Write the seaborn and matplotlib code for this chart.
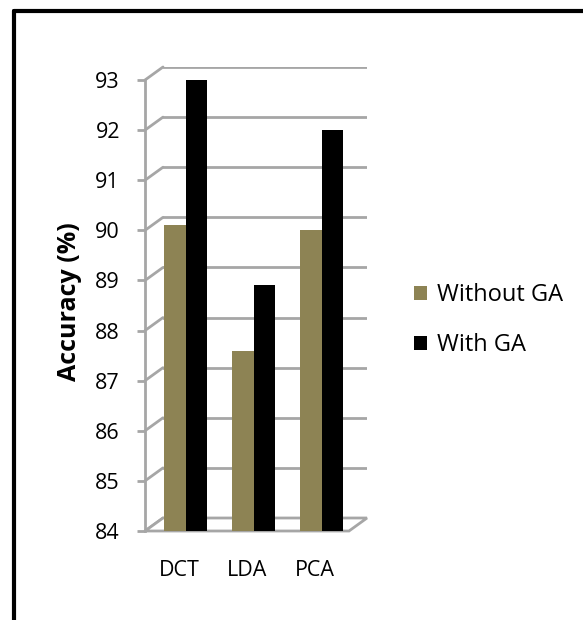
import numpy as np
import pandas as pd
import seaborn as sns
import matplotlib
matplotlib.use("Agg")
import matplotlib.pyplot as plt
from matplotlib.lines import Line2D
from matplotlib.patches import Patch, Polygon
from matplotlib.transforms import ScaledTranslation

# Recognition accuracy per feature extractor
methods = ["DCT", "LDA", "PCA"]
without_ga = [90.0, 87.5, 89.9]
with_ga = [92.9, 88.8, 91.9]
series = ["Without GA", "With GA"]
y_ticks = [84, 85, 86, 87, 88, 89, 90, 91, 92, 93]

df = pd.DataFrame({
    "Method": methods * 2,
    "Accuracy": without_ga + with_ga,
    "Series": [series[0]] * 3 + [series[1]] * 3,
})

sns.set_style("white")
plt.rcParams["font.family"] = ["Open Sans", "DejaVu Sans"]
plt.rcParams["text.color"] = "#000000"

W, H = 583, 620
fig = plt.figure(figsize=(W / 100, H / 100), dpi=100)

olive = "#8D8354"
grid_gray = "#A6A6A6"
palette = {series[0]: olive, series[1]: "#000000"}

# front plane of the plot area (pixels from the top-left corner)
x0, x1 = 145, 349
y_top, y_bot = 80, 531
dx, dy = 18, 13  # depth of the pseudo-3D box


def fig_rect(l, t, r, b):
    return [l / W, 1 - b / H, (r - l) / W, (b - t) / H]


# back wall carrying the gridlines
ax_back = fig.add_axes(fig_rect(x0 + dx, y_top - dy, x1 + dx, y_bot - dy))
ax_back.set_ylim(y_ticks[0], y_ticks[-1])
ax_back.set_xlim(0, 1)
for v in y_ticks:
    ax_back.axhline(v, color=grid_gray, lw=2, zorder=0)
ax_back.set_axis_off()

# front plane with the bars and the value axis
ax = fig.add_axes(fig_rect(x0, y_top, x1, y_bot))
ax.patch.set_alpha(0)
sns.barplot(data=df, x="Method", y="Accuracy", hue="Series",
            palette=palette, width=0.64, gap=0, saturation=1,
            ax=ax, legend=False)
ax.set_ylim(y_ticks[0], y_ticks[-1])
ax.set_xlim(-0.5, len(methods) - 0.5)
ax.set_yticks(y_ticks)
ax.set_yticklabels([str(t) for t in y_ticks])

# place the bars halfway into the box depth
shift = ScaledTranslation(6.5 / 100, 5 / 100, fig.dpi_scale_trans)
for p in ax.patches:
    p.set_transform(ax.transData + shift)
    p.set_edgecolor("none")
    p.set_zorder(3)

for s in ["top", "right", "bottom"]:
    ax.spines[s].set_visible(False)
ax.spines["left"].set_color(grid_gray)
ax.spines["left"].set_linewidth(2)
ax.tick_params(axis="y", length=6, width=2, color=grid_gray, pad=12,
               labelsize=15.5, left=True, labelcolor="black")
ax.tick_params(axis="x", length=0, pad=21, labelsize=15.5, labelcolor="black")
ax.set_xlabel("")
ax.set_ylabel("")

# diagonal connectors from the front ticks to the back gridlines
for v in y_ticks:
    ypx = y_top + (y_ticks[-1] - v) * (y_bot - y_top) / (y_ticks[-1] - y_ticks[0])
    fig.add_artist(Line2D([x0 / W, (x0 + dx) / W],
                          [1 - ypx / H, 1 - (ypx - dy) / H],
                          color=grid_gray, lw=2, zorder=-1))

# floor of the box, kept behind the bars
floor = Polygon([[x0 / W, 1 - y_bot / H], [x1 / W, 1 - y_bot / H],
                 [(x1 + dx) / W, 1 - (y_bot - dy) / H],
                 [(x0 + dx) / W, 1 - (y_bot - dy) / H]],
                closed=True, facecolor="white", edgecolor=grid_gray, lw=2,
                transform=fig.transFigure, zorder=-1)
fig.add_artist(floor)

fig.text(70 / W, 1 - 302 / H, "Accuracy (%)", rotation=90, ha="center",
         va="center", fontsize=18, fontweight="bold")

handles = [Patch(facecolor=olive, edgecolor="none"),
           Patch(facecolor="#000000", edgecolor="none")]
fig.legend(handles, series, loc="center left",
           bbox_to_anchor=(393 / W, 1 - 320 / H), frameon=False,
           fontsize=17, handlelength=0.55, handleheight=0.55,
           handletextpad=0.4, labelspacing=1.1)

# chart frame (top and left edges)
fig.add_artist(Line2D([14 / W, 1], [1 - 11 / H, 1 - 11 / H], color="black", lw=3))
fig.add_artist(Line2D([14 / W, 14 / W], [0, 1 - 11 / H], color="black", lw=3))

fig.savefig("out.png", dpi=100)
